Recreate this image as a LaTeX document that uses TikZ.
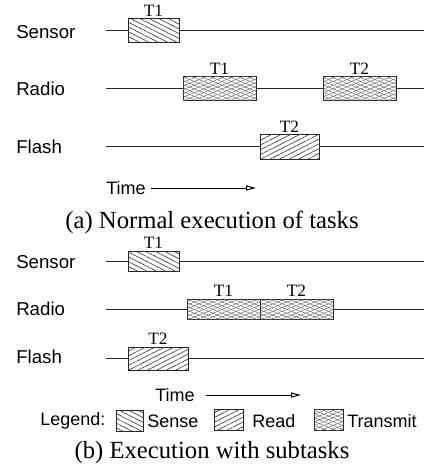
\documentclass[tikz,border=0pt]{standalone}
\usepackage{fontspec}
\setmainfont{Liberation Serif}
\setsansfont{Liberation Sans}
\usetikzlibrary{patterns.meta,arrows.meta}
\tikzset{
  lbl/.style={font=\sffamily\fontsize{14}{16}\selectfont, anchor=west, inner sep=0pt},
  leg/.style={font=\sffamily\fontsize{13.5}{16}\selectfont, anchor=west, inner sep=0pt},
  tl/.style={font=\fontsize{13}{14}\selectfont, inner sep=1pt, anchor=south},
  captxt/.style={font=\fontsize{18.5}{22}\selectfont, inner sep=0pt},
  tline/.style={line width=0.75pt, black!85},
  box/.style={draw=black!85, line width=0.75pt, rectangle, inner sep=0pt, preaction={fill=white}},
  sense/.style={box, postaction={pattern={Lines[angle=-27, distance=3.2pt, line width=0.45pt]}, pattern color=black!80}},
  readp/.style={box, postaction={pattern={Lines[angle=27, distance=3.2pt, line width=0.45pt]}, pattern color=black!80}},
  trans/.style={box, postaction={pattern={Lines[angle=22, distance=2.6pt, line width=0.35pt]}, pattern color=black!60},
                     postaction={pattern={Lines[angle=-22, distance=2.6pt, line width=0.35pt]}, pattern color=black!60}},
  tarrow/.style={line width=0.75pt, -{Triangle[open, length=7.5pt, width=3.8pt]}},
}
\begin{document}
\begin{tikzpicture}[x=0.75pt, y=-0.75pt]
\useasboundingbox (0,0) rectangle (427,474);
% ---------- (a) ----------
\node[lbl] (aSl) at (16,32) {Sensor};
\node[lbl] (aRl) at (16,89) {Radio};
\node[lbl] (aFl) at (16,147) {Flash};
\coordinate (aS0) at (106,31); \coordinate (aS1) at (424,31);
\coordinate (aR0) at (106,89); \coordinate (aR1) at (424,89);
\coordinate (aF0) at (106,147); \coordinate (aF1) at (424,147);
\draw[tline] (aS0) -- (aS1);
\draw[tline] (aR0) -- (aR1);
\draw[tline] (aF0) -- (aF1);
\node[sense, minimum width=38.25pt, minimum height=18pt] (aSb) at (153.5,31) {};
\node[trans, minimum width=54.75pt, minimum height=18pt] (aRb1) at (219.5,89) {};
\node[trans, minimum width=54.75pt, minimum height=18pt] (aRb2) at (359.5,89) {};
\node[readp, minimum width=44.25pt, minimum height=18pt] (aFb) at (289.5,147) {};
\node[tl] (aSt) at (aSb.north) {T1};
\node[tl] (aRt1) at (aRb1.north) {T1};
\node[tl] (aRt2) at (aRb2.north) {T2};
\node[tl] (aFt) at (aFb.north) {T2};
\node[leg] (aTime) at (106,188) {Time};
\coordinate (aA0) at (151,188); \coordinate (aA1) at (256,188);
\draw[tarrow] (aA0) -- (aA1);
\node[captxt] (capA) at (212,222) {(a) Normal execution of tasks};
% ---------- (b) ----------
\node[lbl] (bSl) at (16,262) {Sensor};
\node[lbl] (bRl) at (16,309) {Radio};
\node[lbl] (bFl) at (16,357) {Flash};
\coordinate (bS0) at (106,261); \coordinate (bS1) at (424,261);
\coordinate (bR0) at (106,309); \coordinate (bR1) at (424,309);
\coordinate (bF0) at (106,358); \coordinate (bF1) at (424,358);
\draw[tline] (bS0) -- (bS1);
\draw[tline] (bR0) -- (bR1);
\draw[tline] (bF0) -- (bF1);
\node[sense, minimum width=38.25pt, minimum height=15pt] (bSb) at (153.5,261) {};
\node[trans, minimum width=54.75pt, minimum height=15pt] (bRb1) at (223.5,309) {};
\node[trans, minimum width=54.75pt, minimum height=15pt] (bRb2) at (296.5,309) {};
\node[readp, minimum width=45pt, minimum height=17.25pt] (bFb) at (158,358.5) {};
\node[tl] (bSt) at (bSb.north) {T1};
\node[tl] (bRt1) at (bRb1.north) {T1};
\node[tl] (bRt2) at (bRb2.north) {T2};
\node[tl] (bFt) at (bFb.north) {T2};
\node[leg] (bTime) at (155,395) {Time};
\coordinate (bA0) at (206,395); \coordinate (bA1) at (301,395);
\draw[tarrow] (bA0) -- (bA1);
\node[leg] (legL) at (40,421) {Legend:};
\node[sense, minimum width=20.25pt, minimum height=15.75pt] (legS) at (129.5,420.5) {};
\node[leg] (legSt) at (147,421) {Sense};
\node[readp, minimum width=21.75pt, minimum height=15.75pt] (legR) at (228.5,420) {};
\node[leg] (legRt) at (252,421) {Read};
\node[trans, minimum width=21.75pt, minimum height=15.75pt] (legT) at (328.5,420) {};
\node[leg] (legTt) at (347,421) {Transmit};
\node[captxt] (capB) at (212,453) {(b) Execution with subtasks};
\end{tikzpicture}
\end{document}
